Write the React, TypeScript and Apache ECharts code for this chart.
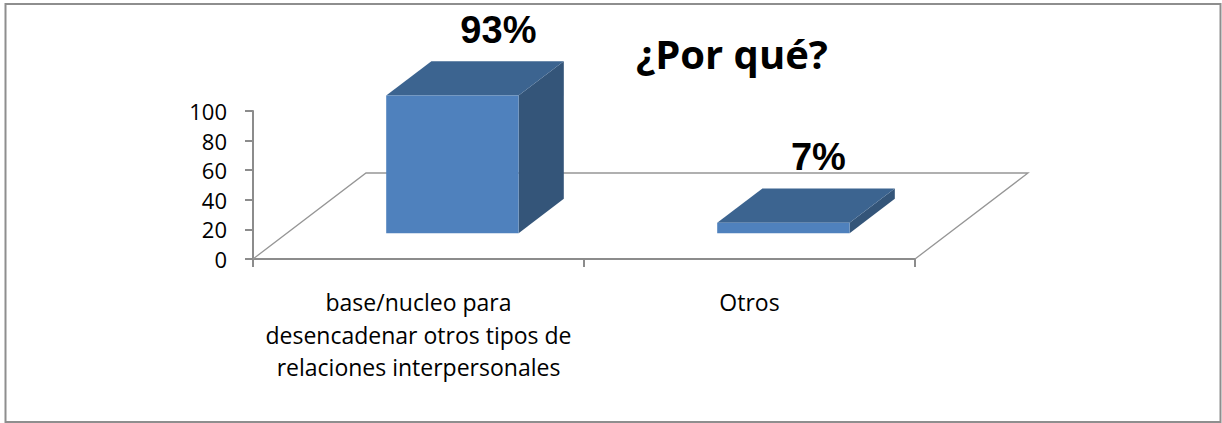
import React, { useEffect, useRef } from "react";
import * as echarts from "echarts";

const categories = [
  "base/nucleo para\ndesencadenar otros tipos de\nrelaciones interpersonales",
  "Otros",
];
const values = [93, 7];
const yTicks = { min: 0, max: 100, interval: 20 };
const chartTitle = "¿Por qué?";

const DEPTH_X = 113;
const DEPTH_Y = -86;
const BAR_FRONT = 0.3;
const BAR_BACK = 0.7;
const BAR_WIDTH = 0.4;
const LABEL_SHIFT = [46, 35];

export default function App() {
  const ref = useRef<HTMLDivElement>(null);
  useEffect(() => {
    const chart = echarts.init(ref.current!, null, { renderer: "svg" });
    chart.setOption({
      animation: false,
      backgroundColor: "#ffffff",
      title: {
        text: chartTitle,
        left: 727,
        top: 28,
        textAlign: "center",
        textStyle: { fontFamily: "Open Sans", fontWeight: "bold", fontSize: 40, color: "#000" },
      },
      graphic: [
        {
          type: "rect",
          shape: { x: 5.5, y: 4, width: 1215, height: 418 },
          style: { fill: "none", stroke: "#8e8e8e", lineWidth: 2 },
          silent: true,
          z: -1,
        },
      ],
      grid: { left: 253, top: 111, width: 662, height: 148, containLabel: false },
      xAxis: {
        type: "category",
        data: categories,
        axisLine: { lineStyle: { color: "#8c8c8c", width: 2 } },
        axisTick: { show: true, alignWithLabel: false, length: 8, lineStyle: { color: "#8c8c8c", width: 2 } },
        axisLabel: {
          interval: 0,
          margin: 27,
          fontFamily: "Open Sans",
          fontSize: 23,
          lineHeight: 32.5,
          color: "#000",
          verticalAlign: "top",
        },
      },
      yAxis: {
        type: "value",
        min: yTicks.min,
        max: yTicks.max,
        interval: yTicks.interval,
        splitLine: { show: false },
        axisLine: { show: true, lineStyle: { color: "#8c8c8c", width: 2 } },
        axisTick: { show: true, length: 8, lineStyle: { color: "#8c8c8c", width: 2 } },
        axisLabel: { margin: 26, fontFamily: "Open Sans", fontSize: 22, color: "#000" },
      },
      series: [
        {
          type: "custom",
          clip: false,
          silent: true,
          z: 1,
          data: [[0, 0]],
          encode: { x: 0, y: 1 },
          renderItem: (_p: any, api: any) => {
            const band = api.size([1, 0])[0];
            const fl = api.coord([0, 0]);
            const x0 = fl[0] - band / 2;
            const x1 = x0 + band * categories.length;
            const y = fl[1];
            return {
              type: "polyline",
              shape: {
                points: [
                  [x0, y],
                  [x0 + DEPTH_X, y + DEPTH_Y],
                  [x1 + DEPTH_X, y + DEPTH_Y],
                  [x1, y],
                ],
              },
              style: { fill: "none", stroke: "#969696", lineWidth: 1.3 },
            };
          },
        },
        {
          type: "custom",
          clip: false,
          silent: true,
          z: 2,
          data: values.map((v, i) => [i, v]),
          encode: { x: 0, y: 1 },
          renderItem: (_p: any, api: any) => {
            const i = api.value(0);
            const v = api.value(1);
            const band = api.size([1, 0])[0];
            const base = api.coord([i, 0]);
            const top = api.coord([i, v]);
            const h = base[1] - top[1];
            const w = band * BAR_WIDTH;
            const fx = base[0] - w / 2 + DEPTH_X * BAR_FRONT;
            const fy = base[1] + DEPTH_Y * BAR_FRONT;
            const dx = DEPTH_X * (BAR_BACK - BAR_FRONT);
            const dy = DEPTH_Y * (BAR_BACK - BAR_FRONT);
            return {
              type: "group",
              children: [
                {
                  type: "polygon",
                  shape: { points: [[fx + w, fy], [fx + w + dx, fy + dy], [fx + w + dx, fy + dy - h], [fx + w, fy - h]] },
                  style: { fill: "#345579" },
                },
                {
                  type: "polygon",
                  shape: { points: [[fx, fy - h], [fx + dx, fy + dy - h], [fx + w + dx, fy + dy - h], [fx + w, fy - h]] },
                  style: { fill: "#3c6490" },
                },
                {
                  type: "rect",
                  shape: { x: fx, y: fy - h, width: w, height: h },
                  style: { fill: "#4f81bd" },
                },
                {
                  type: "text",
                  style: {
                    text: v + "%",
                    x: fx + w / 2 + LABEL_SHIFT[i],
                    y: fy + dy - h - 31,
                    align: "center",
                    verticalAlign: "middle",
                    fontFamily: "Liberation Sans",
                    fontWeight: "bold",
                    fontSize: 38,
                    fill: "#000",
                  },
                },
              ],
            };
          },
        },
      ],
    });
    return () => chart.dispose();
  }, []);
  return <div ref={ref} style={{ position: "fixed", left: 0, top: 0, width: 1222, height: 423 }} />;
}
